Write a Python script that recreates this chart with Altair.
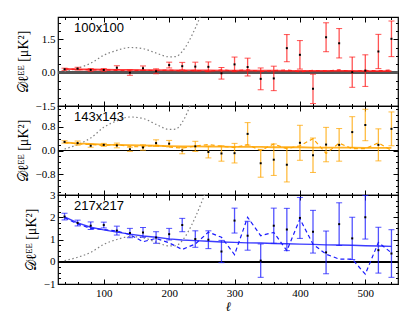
import altair as alt
import pandas as pd

# multipole bins
ell = [40, 60, 80, 100, 120, 140, 160, 180, 200, 220, 240, 260, 280,
       300, 320, 340, 360, 380, 400, 420, 440, 460, 480, 500, 520, 540]

# 100x100 (red)
d100 = [0.15, 0.18, 0.12, 0.12, 0.22, 0.0, 0.2, 0.06, 0.34, 0.29, 0.27, 0.26, -0.03,
        0.37, 0.25, -0.28, -0.26, 1.1, 0.8, -0.73, 1.59, 1.32, 0.02, 0.09, 0.95, 1.52]
e100 = [0.05, 0.06, 0.06, 0.06, 0.09, 0.12, 0.1, 0.11, 0.13, 0.17, 0.2, 0.22, 0.26,
        0.33, 0.4, 0.49, 0.55, 0.61, 0.64, 0.66, 0.65, 0.66, 0.68, 0.71, 0.77, 0.8]
m100 = [0.17, 0.15, 0.14, 0.13, 0.12, 0.12, 0.11, 0.11, 0.1, 0.1, 0.1, 0.1, 0.09,
        0.09, 0.09, 0.09, 0.09, 0.08, 0.08, 0.08, 0.08, 0.08, 0.08, 0.07, 0.07, 0.07]
s100 = [0.16, 0.15, 0.12, 0.13, 0.1, 0.08, 0.11, 0.09, 0.12, 0.07, 0.1, 0.06, 0.12,
        0.08, 0.13, 0.05, 0.09, 0.12, 0.04, 0.1, 0.07, 0.12, 0.05, 0.1, 0.08, 0.12]

# 143x143 (orange)
d143 = [0.29, 0.25, 0.16, 0.19, 0.17, 0.04, 0.1, 0.25, 0.23, 0.0, 0.14, -0.05, -0.1,
        -0.09, 0.56, -0.43, -0.31, -0.48, 0.26, -0.16, 0.2, 0.19, 0.62, 0.86, 0.19, 0.73]
e143 = [0.04, 0.07, 0.05, 0.05, 0.08, 0.07, 0.09, 0.11, 0.11, 0.11, 0.17, 0.2, 0.26,
        0.33, 0.38, 0.47, 0.53, 0.58, 0.59, 0.58, 0.58, 0.55, 0.52, 0.53, 0.54, 0.57]
m143 = [0.27, 0.24, 0.22, 0.2, 0.19, 0.18, 0.17, 0.16, 0.15, 0.14, 0.14, 0.13, 0.13,
        0.12, 0.12, 0.12, 0.11, 0.11, 0.11, 0.1, 0.1, 0.1, 0.1, 0.09, 0.09, 0.09]
s143 = [0.27, 0.22, 0.2, 0.17, 0.2, 0.14, 0.12, 0.18, 0.12, 0.08, 0.15, 0.2, 0.14,
        0.1, 0.2, 0.0, 0.22, 0.06, 0.16, 0.4, -0.1, 0.25, 0.06, 0.06, 0.26, 0.0]

# 217x217 (blue)
d217 = [2.03, 1.74, 1.62, 1.65, 1.4, 1.29, 1.32, 1.09, 1.24, 1.65, 1.02, 0.99, 0.46,
        1.85, 1.17, 0.05, 1.62, 1.45, 1.97, 1.35, 0.42, 1.69, 1.05, 2.0, 0.52, 0.37]
e217 = [0.15, 0.13, 0.17, 0.13, 0.2, 0.21, 0.22, 0.26, 0.26, 0.3, 0.37, 0.4, 0.5,
        0.56, 0.65, 0.75, 0.79, 0.95, 0.92, 0.96, 0.96, 0.96, 0.95, 0.98, 1.03, 1.07]
m217 = [2.02, 1.75, 1.55, 1.43, 1.33, 1.24, 1.16, 1.1, 1.03, 0.98, 0.95, 0.92, 0.89,
        0.87, 0.85, 0.84, 0.82, 0.81, 0.79, 0.78, 0.76, 0.75, 0.74, 0.72, 0.71, 0.69]
s217 = [1.98, 1.7, 1.5, 1.45, 1.38, 1.22, 0.9, 1.05, 0.85, 0.55, 0.8, 1.33, 1.1,
        0.32, 2.0, 1.17, 1.32, 0.5, 1.92, 0.79, 0.34, 0.12, 0.12, -0.56, 0.87, 0.4]

# grey dotted reference curve
dot_ell = [40, 60, 80, 100, 120, 140, 160, 180, 200, 210, 220, 230, 240, 250, 260, 270]
dot_val = [0.05, 0.2, 0.42, 0.78, 1.0, 1.13, 1.08, 0.88, 0.71, 0.72, 0.95, 1.4, 2.0, 2.7, 3.5, 4.4]

# axis ticks
x_major = [100, 200, 300, 400, 500]
x_minor = [v for v in range(40, 541, 20) if v % 100 != 0]

PW, PH = 340, 89
SERIF = "Liberation Serif"
YTITLE = "𝒟ℓᴱᴱ [μK²]"

xscale = alt.Scale(domain=[30, 550], nice=False, zero=False)


def panel(label, color, vals, errs, model, dash, ydom, ymajor, yminor, fmt,
          show_x, zero_color="black", zero_width=1, solid_width=1.8):
    df = pd.DataFrame({"ell": ell, "v": vals,
                       "lo": [v - e for v, e in zip(vals, errs)],
                       "hi": [v + e for v, e in zip(vals, errs)],
                       "model": model, "dash": dash})
    ddf = pd.DataFrame({"ell": dot_ell, "v": dot_val})
    yscale = alt.Scale(domain=ydom, nice=False, zero=False)
    X = alt.X("ell:Q", scale=xscale, axis=None)
    base = alt.Chart(df)

    zero = base.transform_calculate(z="0").mark_rule(
        color=zero_color, strokeWidth=zero_width).encode(
        y=alt.Y("z:Q", scale=yscale, axis=None))
    dotted = alt.Chart(ddf).mark_line(
        clip=True, color="#808080", strokeDash=[1.5, 2.5], strokeWidth=1.2,
        interpolate="monotone").encode(x=X, y=alt.Y("v:Q", scale=yscale, axis=None))
    solid = base.mark_line(clip=True, color=color, strokeWidth=solid_width, opacity=0.85).encode(
        x=X, y=alt.Y("model:Q", scale=yscale, axis=None))
    dashed = base.mark_line(clip=True, color=color, strokeWidth=1.2,
                            strokeDash=[4, 3]).encode(
        x=X, y=alt.Y("dash:Q", scale=yscale, axis=None))
    bars = base.mark_rule(clip=True, color=color, strokeWidth=1.3, opacity=0.75).encode(
        x=X, y=alt.Y("lo:Q", scale=yscale, axis=None), y2="hi:Q")
    cap_lo = base.mark_tick(clip=True, color=color, orient="horizontal", size=6,
                            thickness=1, opacity=0.75).encode(
        x=X, y=alt.Y("lo:Q", scale=yscale, axis=None))
    cap_hi = base.mark_tick(clip=True, color=color, orient="horizontal", size=6,
                            thickness=1, opacity=0.75).encode(
        x=X, y=alt.Y("hi:Q", scale=yscale, axis=None))
    pts = base.mark_square(clip=True, color="black", size=4, opacity=1).encode(
        x=X, y=alt.Y("v:Q", scale=yscale, axis=None))
    txt = alt.Chart(pd.DataFrame({"t": [label]})).mark_text(
        align="left", baseline="alphabetic", font="Liberation Sans", fontSize=13,
        color="black").encode(text="t:N", x=alt.value(16), y=alt.value(15))

    def ax(orient, values, size, labels=False, **kw):
        return alt.Axis(orient=orient, values=values, tickSize=size, offset=-size,
                        domain=False, grid=False, labels=labels, ticks=True,
                        tickColor="black", tickWidth=1, **kw)

    xlab = dict(labelFont=SERIF, labelFontSize=11, labelPadding=3, labelColor="black",
                title="ℓ", titleFont=SERIF, titleFontSize=13, titleFontStyle="italic",
                titleFontWeight="normal", titlePadding=2, titleColor="black") if show_x else dict(title=None)
    ylab = dict(labelFont=SERIF, labelFontSize=11, labelPadding=3, labelColor="black",
                format=fmt, title=YTITLE, titleFont=SERIF, titleFontSize=14,
                titleFontWeight="normal", titlePadding=5, titleColor="black")

    def axlayer(xa, ya):
        return base.mark_point(opacity=0).encode(
            x=alt.X("ell:Q", scale=xscale, axis=xa),
            y=alt.Y("v:Q", scale=yscale, axis=ya))

    a1 = axlayer(ax("bottom", x_major, 5, labels=show_x, **xlab),
                 ax("left", ymajor, 5, labels=True, **ylab))
    a2 = axlayer(ax("bottom", x_minor, 2.5, title=None), ax("left", yminor, 2.5, title=None))
    a3 = axlayer(ax("top", x_major, 5, title=None), ax("right", ymajor, 5, title=None))
    a4 = axlayer(ax("top", x_minor, 2.5, title=None), ax("right", yminor, 2.5, title=None))

    return alt.layer(a1, a2, a3, a4, zero, dotted, solid, dashed, bars, cap_lo,
                     cap_hi, pts, txt).resolve_axis(
        x="independent", y="independent").properties(width=PW, height=PH)


def rng(a, b, s):
    out, v = [], a
    while v <= b + 1e-9:
        out.append(round(v, 4))
        v += s
    return out


top_minor = [v for v in rng(-1.5, 2.5, 0.375) if abs(v / 1.5 - round(v / 1.5)) > 1e-6]
mid_minor = [v for v in rng(-1.4, 1.4, 0.2) if abs(v / 0.8 - round(v / 0.8)) > 1e-6]
bot_minor = [v for v in rng(-1.0, 3.0, 0.25) if abs(v - round(v)) > 1e-6]

p1 = panel("100x100", "#ff1a1a", d100, e100, m100, s100, [-1.5, 2.5],
           [-1.5, 0.0, 1.5], top_minor, ".1f", False, zero_color="#555555", zero_width=1.8)
p2 = panel("143x143", "#ffa500", d143, e143, m143, s143, [-1.5, 1.5],
           [-0.8, 0.0, 0.8], mid_minor, ".1f", False)
p3 = panel("217x217", "#1a1aff", d217, e217, m217, s217, [-1.0, 3.0],
           [-1, 0, 1, 2, 3], bot_minor, "d", True, solid_width=1.4)

chart = alt.vconcat(p1, p2, p3, spacing=0, bounds="flush").properties(
    padding={"left": 7, "top": 7, "right": 5, "bottom": 0}
).configure_view(stroke="black", strokeWidth=1.2)

chart.save("out.html", embed_options={"renderer": "svg", "actions": False})
